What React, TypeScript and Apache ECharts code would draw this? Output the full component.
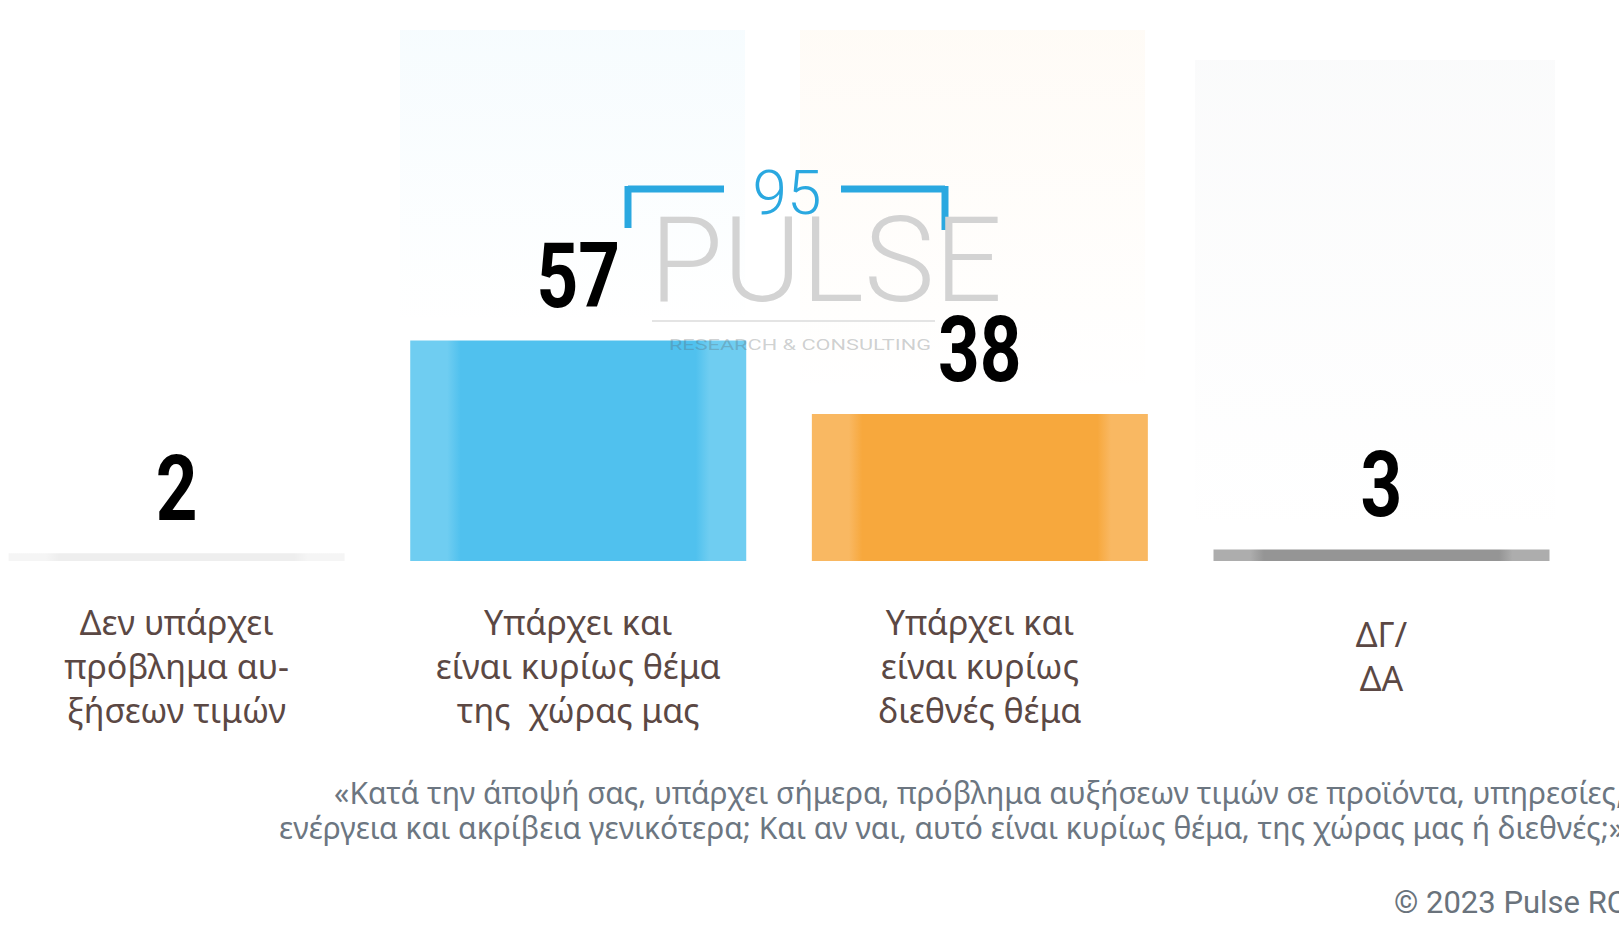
import React, { useEffect, useRef } from "react";
import * as echarts from "echarts";

const categories = [
  "Δεν υπάρχει\nπρόβλημα αυ-\nξήσεων τιμών",
  "Υπάρχει και\nείναι κυρίως θέμα\nτης  χώρας μας",
  "Υπάρχει και\nείναι κυρίως\nδιεθνές θέμα",
  "ΔΓ/\nΔΑ",
];
const values = [2, 57, 38, 3];
const barBase = ["#eeeeee", "#50c1ee", "#f7a83d", "#959595"];
const barEdge = ["#f5f5f5", "#6fcdf1", "#f9b862", "#adadad"];
const logoTotal = "95";
const questionLines = [
  "«Κατά την άποψή σας, υπάρχει σήμερα, πρόβλημα αυξήσεων τιμών σε προϊόντα, υπηρεσίες,",
  "ενέργεια και ακρίβεια γενικότερα; Και αν ναι, αυτό είναι κυρίως θέμα, της χώρας μας ή διεθνές;»",
];
const copyright = "© 2023 Pulse RC";

const GREEK = "'Noto Sans', 'Open Sans', sans-serif";
const LABEL_COLOR = "#5b4844";

export default function App() {
  const ref = useRef<HTMLDivElement>(null);
  useEffect(() => {
    if (!ref.current) return;
    const chart = echarts.init(ref.current, null, { renderer: "svg" });
    const blue = "#2aa8e0";
    const option: any = {
      animation: false,
      backgroundColor: "#ffffff",
      grid: { left: 176.6, right: 237.5, top: 174, bottom: 367 },
      xAxis: {
        type: "category",
        data: categories,
        boundaryGap: false,
        axisLine: { show: false },
        axisTick: { show: false },
        splitLine: { show: false },
        axisLabel: {
          interval: 0,
          color: LABEL_COLOR,
          fontFamily: GREEK,
          fontSize: 34,
          lineHeight: 44,
          verticalAlign: "middle",
          margin: 105,
          formatter: (v: string) => {
            const lines = v.split("\n");
            if (lines.length >= 3) return v;
            return lines.map((l) => `{a|${l}}`).join("\n") + "\n{z| }";
          },
          rich: {
            a: { color: LABEL_COLOR, fontFamily: GREEK, fontSize: 34, lineHeight: 44 },
            z: { fontSize: 4, lineHeight: 21 },
          },
        },
      },
      yAxis: { type: "value", min: 0, max: 100, show: false, splitLine: { show: false } },
      graphic: [
        {
          type: "rect", z: -10, shape: { x: 400, y: 30, width: 345, height: 300 },
          style: { fill: new echarts.graphic.LinearGradient(0, 0, 0, 1, [
            { offset: 0, color: "rgba(80,190,238,0.05)" }, { offset: 1, color: "rgba(80,190,238,0.0)" }]) },
        },
        {
          type: "rect", z: -10, shape: { x: 800, y: 30, width: 345, height: 370 },
          style: { fill: new echarts.graphic.LinearGradient(0, 0, 0, 1, [
            { offset: 0, color: "rgba(247,168,61,0.045)" }, { offset: 1, color: "rgba(247,168,61,0.0)" }]) },
        },
        {
          type: "rect", z: -10, shape: { x: 1195, y: 60, width: 360, height: 480 },
          style: { fill: new echarts.graphic.LinearGradient(0, 0, 0, 1, [
            { offset: 0, color: "rgba(150,160,170,0.045)" }, { offset: 1, color: "rgba(150,160,170,0.0)" }]) },
        },
        // logo watermark
        { type: "line", z: -5, shape: { x1: 628, y1: 189, x2: 724, y2: 189 }, style: { stroke: blue, lineWidth: 7 } },
        { type: "line", z: -5, shape: { x1: 628, y1: 186, x2: 628, y2: 228 }, style: { stroke: blue, lineWidth: 7 } },
        { type: "line", z: -5, shape: { x1: 841, y1: 189, x2: 945, y2: 189 }, style: { stroke: blue, lineWidth: 7 } },
        { type: "line", z: -5, shape: { x1: 945, y1: 186, x2: 945, y2: 230 }, style: { stroke: blue, lineWidth: 7 } },
        {
          type: "text", z: -5, x: 787, y: 192,
          style: { text: logoTotal, fill: blue, font: "300 62px Roboto, sans-serif", align: "center", verticalAlign: "middle" },
        },
        {
          type: "text", z: -5, x: 826, y: 260,
          style: { text: "PULSE", fill: "#d3d3d3", font: "300 119px Roboto, sans-serif", align: "center", verticalAlign: "middle" },
        },
        { type: "line", z: -5, shape: { x1: 652, y1: 321, x2: 935, y2: 321 }, style: { stroke: "#e4e4e4", lineWidth: 2 } },
        {
          type: "text", z: 5, x: 800, y: 345, scaleX: 1.45,
          style: { text: "RESEARCH & CONSULTING", fill: "rgba(90,95,100,0.3)", font: "400 15px Roboto, sans-serif", align: "center", verticalAlign: "middle" },
        },
        // question
        {
          type: "text", x: 1624, y: 792,
          style: { text: questionLines[0], fill: "#6c7681", font: `400 30px ${GREEK}`, align: "right", verticalAlign: "middle" },
        },
        {
          type: "text", x: 1624, y: 827,
          style: { text: questionLines[1], fill: "#6c7681", font: `400 30px ${GREEK}`, align: "right", verticalAlign: "middle" },
        },
        {
          type: "text", x: 1627, y: 902,
          style: { text: copyright, fill: "#6a737c", font: "400 31px Roboto, sans-serif", align: "right", verticalAlign: "middle" },
        },
      ],
      series: [
        {
          type: "bar",
          barWidth: 336,
          clip: false,
          data: values.map((v, i) => ({
            value: v,
            itemStyle: {
              color: new echarts.graphic.LinearGradient(0, 0, 1, 0, [
                { offset: 0, color: barEdge[i] },
                { offset: 0.11, color: barEdge[i] },
                { offset: 0.15, color: barBase[i] },
                { offset: 0.85, color: barBase[i] },
                { offset: 0.89, color: barEdge[i] },
                { offset: 1, color: barEdge[i] },
              ]),
            },
          })),
        },
        {
          type: "custom",
          clip: false,
          z: 10,
          data: values.map((v, i) => [i, v]),
          encode: { x: 0, y: 1 },
          renderItem: (params: any, api: any) => {
            const v = api.value(1);
            const p = api.coord([api.value(0), v]);
            return {
              type: "text",
              x: p[0],
              y: p[1] - 64,
              scaleX: 0.8,
              style: {
                text: String(v),
                font: "bold 91px Roboto, sans-serif",
                fill: "#000000",
                align: "center",
                verticalAlign: "middle",
              },
            };
          },
        },
      ],
    };
    chart.setOption(option);
    return () => chart.dispose();
  }, []);
  return (
    <div
      ref={ref}
      style={{ position: "fixed", left: 0, top: 0, width: 1619, height: 928, background: "#fff" }}
    />
  );
}
